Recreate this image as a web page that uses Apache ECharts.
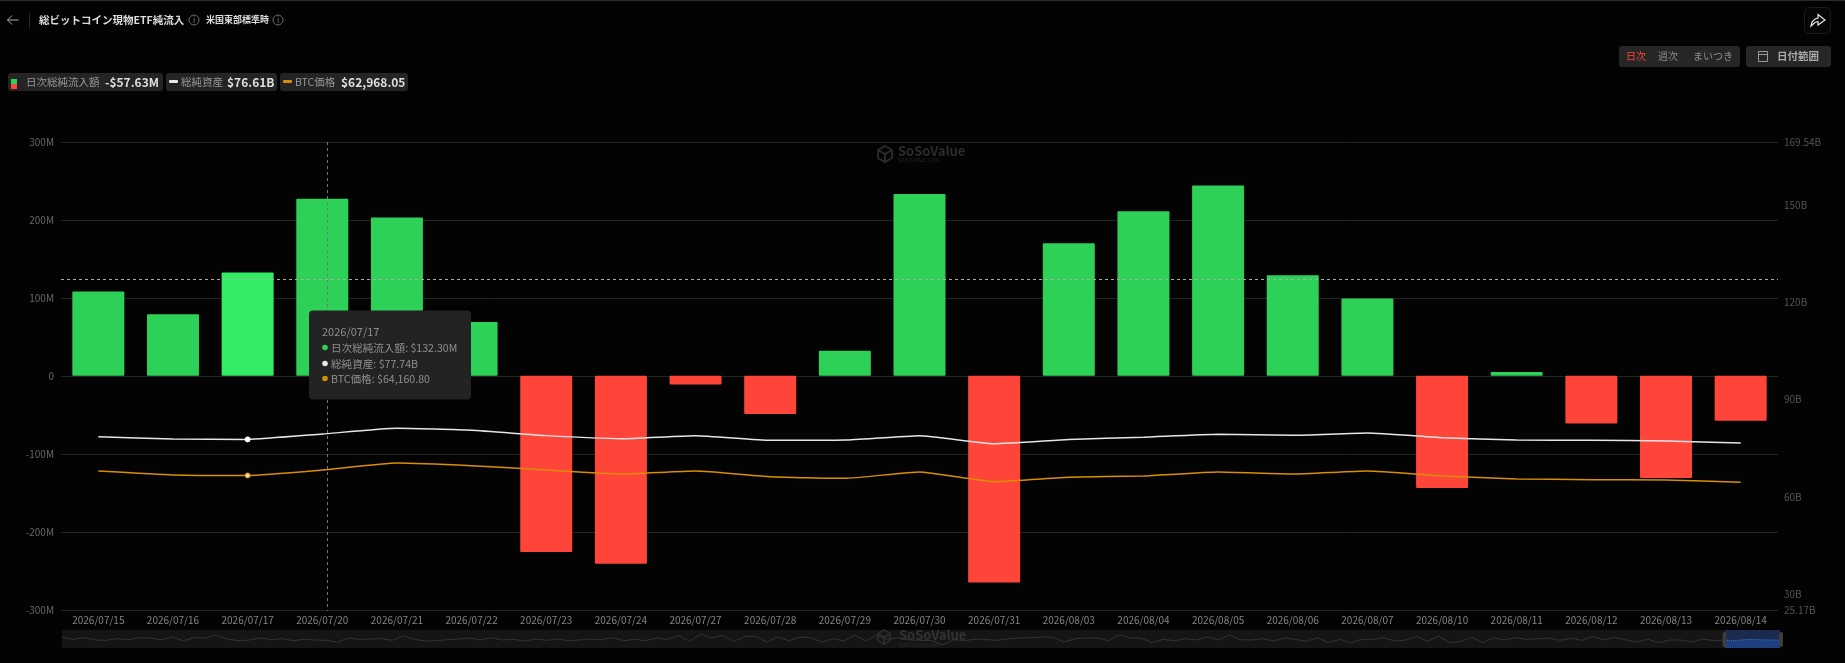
<!DOCTYPE html>
<html><head><meta charset="utf-8">
<style>html,body{margin:0;padding:0;background:#030303;overflow:hidden}#c{width:1845px;height:663px}</style>
<script src="https://cdn.jsdelivr.net/npm/echarts@6/dist/echarts.min.js"></script>
</head><body><div id="c"></div>
<script>
const dates = ['2026/07/15','2026/07/16','2026/07/17','2026/07/20','2026/07/21','2026/07/22','2026/07/23','2026/07/24','2026/07/27','2026/07/28','2026/07/29','2026/07/30','2026/07/31','2026/08/03','2026/08/04','2026/08/05','2026/08/06','2026/08/07','2026/08/10','2026/08/11','2026/08/12','2026/08/13','2026/08/14'];
const netInflow = [108,79,132.3,227,203,69,-226,-241,-11,-49,32,233,-265,170,211,244,129,99,-144,5,-61,-131,-57.63];
const netAssets = [78.58,77.86,77.74,79.4,81.15,80.54,78.9,77.97,78.9,77.45,77.55,78.9,76.42,77.74,78.38,79.3,79.0,79.7,78.28,77.55,77.45,77.25,76.61];
const btcPrice = [64965,64250,64160.8,65144,66396,65919,65144,64429,64965,63952,63654,64787,63058,63833,64071,64787,64429,64965,64071,63535,63416,63356,62968.05];
const rightTicks = [25.17,30,60,90,120,150,169.54];
const previewHistory = [35,42,37,44,45,40,43,37,38,43,35,46,37,38,29,41,46,44,38,43,40,46,42,44,45,50,38,42,41,40,45,31,42,47,46,43,41,38,44,37,44,42,47,41,45,41,46,44,41,43,37,46,42,46,38,42,31,48,26,38,30,48,33,33,50,35,
 46,35,37,50,40,47,29,47,29,42,37,44,45,46,58,43,46,41,43,45,40,38,37,35,36,50,40,38,38,46,28,38,39,52,42,46,40,44,35,44,29,43,44,
 40,47,38,42,48,37,52,42,52,42,42,37,47,44,34,48,32,52,48,36,52,38,44,37,42,40,38,45,39,45,34,44,36,44,50,42,52,44,44,50,41,46];
const previewSelected = [44,46,42,43,44,44];
const highlightIndex = 2;

const green='#2ED158', greenHi='#34EB64', red='#FF453A', white='#E6E6E6', orange='#D98E04';
const FONT='"Noto Sans CJK JP","Noto Sans",sans-serif';

const g=[];
const txt=(text,x,y,fill,size,weight,align)=>g.push({type:'text',z:50,style:{text,x,y,fill,font:`${weight||'normal'} ${size}px ${FONT}`,textAlign:align||'left',textVerticalAlign:'middle'}});
const rect=(x,y,w,h,fill,r,stroke,z)=>g.push({type:'rect',z:z||40,shape:{x,y,width:w,height:h,r:r||0},style:{fill,stroke:stroke||null,lineWidth:1}});
const line=(x1,y1,x2,y2,stroke,w,dash,z)=>g.push({type:'line',z:z||30,shape:{x1,y1,x2,y2},style:{stroke,lineWidth:w||1,lineDash:dash||null}});
const info=(x,y)=>{g.push({type:'circle',z:50,shape:{cx:x,cy:y,r:5},style:{fill:'none',stroke:'#6a6a6a',lineWidth:1}});txt('i',x,y,'#7a7a7a',8,'normal','center');};

// page frame and header
rect(0,0,1845,1,'#2a2a2a');
g.push({type:'polyline',z:50,shape:{points:[[12,15.5],[7.5,20],[12,24.5]]},style:{stroke:'#aaa',fill:'none',lineWidth:1}});
line(7.5,20,18.5,20,'#aaa',1,null,50);
line(29.5,13,29.5,28,'#2a2a2a',1,null,50);
txt('総ビットコイン現物ETF純流入',39,20,'#dddddd',10.5,'bold');
info(194,20);
txt('米国東部標準時',206,20,'#dddddd',9,'bold');
info(278,20);
rect(1804.5,7.5,26,26,'#050505',5,'#1c1c1c');
g.push({type:'polygon',z:50,shape:{points:[[1811,26],[1812,22],[1815,19],[1818,18],[1818,14.5],[1825,20],[1818,25],[1818,21.5],[1815,22.5]]},style:{fill:'none',stroke:'#e5e5e5',lineWidth:1.2}});

// range buttons
rect(1619,46,121,21,'#262626',3);
txt('日次',1636,56.5,red,10,'normal','center');
txt('週次',1668,56.5,'#8c8c8c',10,'normal','center');
txt('まいつき',1713,56.5,'#8c8c8c',10,'normal','center');
rect(1746,46,85,21,'#262626',3);
g.push({type:'rect',z:50,shape:{x:1758.5,y:51.5,width:9,height:10},style:{fill:'none',stroke:'#999',lineWidth:1}});
line(1758.5,54.5,1767.5,54.5,'#999',1,null,50);
txt('日付範囲',1798,56.5,'#aaaaaa',10.5,'bold','center');

// legend chips
rect(8,73,155,18,'#242424',3);
rect(11,79,6,5,green,0,null,50); rect(11,84,6,5,red,0,null,50);
txt('日次総純流入額',26,82,'#969696',10.5);
txt('-$57.63M',105,82,'#dedede',12,'bold');
rect(166,73,111,18,'#242424',3);
rect(169,80,9,3,'#e8e8e8',1,null,50);
txt('総純資産',181,82,'#969696',10.5);
txt('$76.61B',227,82,'#dedede',12,'bold');
rect(280,73,128,18,'#242424',3);
rect(283,80,9,3,orange,1,null,50);
txt('BTC価格',295,82,'#969696',10.5);
txt('$62,968.05',341,82,'#dedede',12,'bold');

// watermarks
const logo=(cx,cy,s)=>{
  g.push({type:'polygon',z:2,shape:{points:[[cx,cy-s],[cx+s*.87,cy-s/2],[cx+s*.87,cy+s/2],[cx,cy+s],[cx-s*.87,cy+s/2],[cx-s*.87,cy-s/2]]},style:{fill:'none',stroke:'#2a2a2a',lineWidth:2}});
  g.push({type:'polyline',z:2,shape:{points:[[cx-s*.87,cy-s/2],[cx,cy],[cx+s*.87,cy-s/2]]},style:{fill:'none',stroke:'#2a2a2a',lineWidth:2}});
  line(cx,cy,cx,cy+s,'#2a2a2a',2,null,2);
};
logo(885,154,8);
g.push({type:'text',z:2,style:{text:'SoSoValue',x:898,y:151,fill:'#2c2c2c',font:`bold 13px ${FONT}`,textVerticalAlign:'middle'}});
g.push({type:'text',z:2,style:{text:'sosovalue.com',x:898,y:160,fill:'#222222',font:`6px ${FONT}`,textVerticalAlign:'middle'}});
logo(884,637,7);
g.push({type:'text',z:60,style:{text:'SoSoValue',x:899,y:635,fill:'#333333',font:`bold 13px ${FONT}`,textVerticalAlign:'middle'}});
g.push({type:'text',z:60,style:{text:'sosovalue.com',x:899,y:645,fill:'#2a2a2a',font:`6px ${FONT}`,textVerticalAlign:'middle'}});

// crosshair
line(327.5,142,327.5,611,'#777',1,[3,3],30);
line(61,279.5,1778,279.5,'#aaa',1,[3,3],30);

// tooltip
rect(309,310.5,162,89,'#232323',4,null,40);
txt(dates[highlightIndex],322,331.5,'#8f8f8f',11);
const tipDots=[[347.5,green],[363.5,white],[378.5,orange]];
tipDots.forEach(([y,c])=>g.push({type:'circle',z:50,shape:{cx:325,cy:y,r:2.8},style:{fill:c}}));
txt('日次総純流入額: $'+netInflow[highlightIndex].toFixed(2)+'M',331,347.5,'#8f8f8f',10.6);
txt('総純資産: $'+netAssets[highlightIndex].toFixed(2)+'B',331,363.5,'#8f8f8f',10.6);
txt('BTC価格: $'+btcPrice[highlightIndex].toFixed(2).replace(/\B(?=(\d{3})+\.)/g,','),331,378.5,'#8f8f8f',10.6);

// slider handles
rect(1722.5,632,4,15,'#3d3d3d',2,null,45);
rect(1779,632,4,15,'#3d3d3d',2,null,45);

const previewCats=[...previewHistory,...previewSelected].map((_,i)=>String(i));
const selStart=previewHistory.length;
const markerItem=(v,i,c)=> i===highlightIndex ? {value:v,symbol:'circle',symbolSize:5,itemStyle:{color:c==='w'?'#ffffff':'#f5d9a0',borderColor:c==='w'?'#ffffff':orange,borderWidth:1}} : {value:v,symbol:'none'};

const chart=echarts.init(document.getElementById('c'),null,{renderer:'canvas'});
chart.setOption({
  animation:false,
  backgroundColor:'#030303',
  textStyle:{fontFamily:FONT},
  graphic:{elements:g},
  grid:[
    {left:61,right:67,top:141.8,height:468},
    {left:62,right:65,top:630,height:18,show:true,backgroundColor:'#151515',borderWidth:0}
  ],
  xAxis:[
    {type:'category',data:dates,gridIndex:0,axisLine:{show:false},axisTick:{show:false},splitLine:{show:false},
     position:'bottom',axisLabel:{color:'#858585',fontSize:10,margin:5,interval:0,fontFamily:FONT}},
    {type:'category',data:previewCats,gridIndex:1,boundaryGap:false,show:false}
  ],
  yAxis:[
    {type:'value',gridIndex:0,min:-300,max:300,interval:100,axisLine:{show:false},axisTick:{show:false},
     axisLabel:{color:'#666',fontSize:10,margin:7,formatter:v=>v===0?'0':v+'M',fontFamily:FONT},
     splitLine:{lineStyle:{color:'#242424',width:1}}},
    {type:'value',gridIndex:0,position:'right',min:25.17,max:169.54,axisLine:{show:false},axisTick:{show:false},
     splitLine:{show:false},
     axisLabel:{color:'#555',fontSize:10,margin:6,customValues:rightTicks,formatter:v=>v+'B',fontFamily:FONT}},
    {type:'value',gridIndex:0,position:'right',min:40142,max:123820,show:false,splitLine:{show:false}},
    {type:'value',gridIndex:1,min:14,max:68,inverse:true,show:false,splitLine:{show:false}}
  ],
  series:[
    {name:'日次総純流入額',type:'bar',xAxisIndex:0,yAxisIndex:0,barWidth:52,z:2,
     data:netInflow.map((v,i)=>({value:v,itemStyle:{color:v<0?red:(i===highlightIndex?greenHi:green),borderRadius:1}}))},
    {name:'総純資産',type:'line',xAxisIndex:0,yAxisIndex:1,z:5,smooth:0.15,showSymbol:true,lineStyle:{color:white,width:1.5},itemStyle:{color:white},
     data:netAssets.map((v,i)=>markerItem(v,i,'w'))},
    {name:'BTC価格',type:'line',xAxisIndex:0,yAxisIndex:2,z:4,smooth:0.15,showSymbol:true,lineStyle:{color:orange,width:1.5},itemStyle:{color:orange},
     data:btcPrice.map((v,i)=>markerItem(v,i,'o'))},
    {name:'history',type:'line',xAxisIndex:1,yAxisIndex:3,symbol:'none',silent:true,z:3,lineStyle:{color:'#333333',width:1},
     data:[...previewHistory,previewSelected[0]],
     markArea:{silent:true,itemStyle:{color:'#1a2b4f'},data:[[{xAxis:String(selStart)},{xAxis:String(previewCats.length-1)}]]}},
    {name:'selected',type:'line',xAxisIndex:1,yAxisIndex:3,symbol:'none',silent:true,z:4,lineStyle:{color:'#3a78c8',width:1,type:'dotted'},
     areaStyle:{color:'#1d3f80',opacity:1,origin:'end'},
     data:[...previewHistory.map(()=>null),...previewSelected]}
  ]
});
</script></body></html>
